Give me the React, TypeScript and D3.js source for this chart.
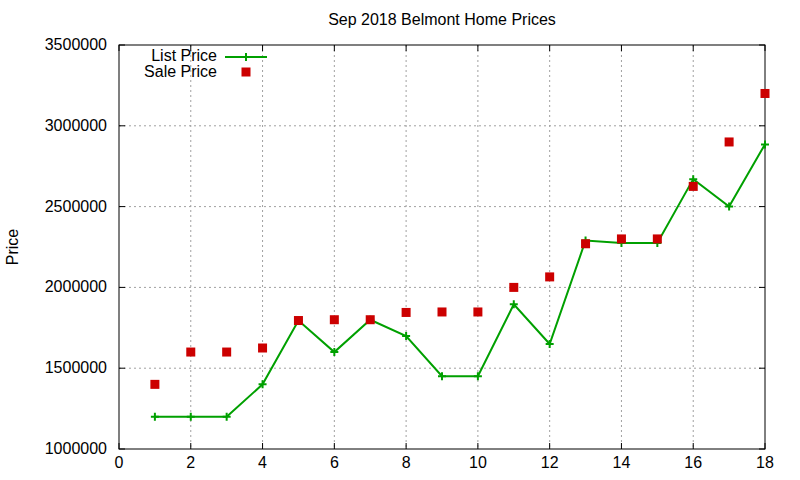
import { useEffect, useRef } from 'react'
import * as d3 from 'd3'

const TITLE = 'Sep 2018 Belmont Home Prices'
const homes = [1, 2, 3, 4, 5, 6, 7, 8, 9, 10, 11, 12, 13, 14, 15, 16, 17, 18]
const listPrice = [
  1200000, 1200000, 1200000, 1400000, 1795000, 1600000, 1800000, 1699000, 1450000,
  1450000, 1895000, 1650000, 2290000, 2275000, 2275000, 2670000, 2500000, 2885000,
]
const salePrice = [
  1400000, 1600000, 1600000, 1625000, 1795000, 1800000, 1800000, 1845000, 1848000,
  1848000, 2000000, 2065000, 2270000, 2300000, 2300000, 2625000, 2900000, 3200000,
]
const xTicks = [0, 2, 4, 6, 8, 10, 12, 14, 16, 18]
const yTicks = [1000000, 1500000, 2000000, 2500000, 3000000, 3500000]

const GREEN = '#00a000'
const RED = '#cc0000'
const FONT = '"Liberation Sans", Arial, sans-serif'

export default function App() {
  const ref = useRef<SVGSVGElement>(null)

  useEffect(() => {
    if (!ref.current) return
    const svg = d3.select(ref.current)
    svg.selectAll('*').remove()

    const width = 800
    const height = 480
    const margin = { top: 45, right: 35, bottom: 31, left: 119 }
    const iw = width - margin.left - margin.right
    const ih = height - margin.top - margin.bottom

    svg.attr('width', width).attr('height', height)
      .style('font-family', FONT)

    svg.append('rect').attr('width', width).attr('height', height).attr('fill', '#fff')

    const g = svg.append('g').attr('transform', `translate(${margin.left},${margin.top})`)

    const x = d3.scaleLinear().domain([0, 18]).range([0, iw])
    const y = d3.scaleLinear().domain([1000000, 3500000]).range([ih, 0])

    // Grid
    xTicks.slice(1, -1).forEach(t => {
      g.append('line')
        .attr('x1', x(t)).attr('x2', x(t)).attr('y1', 0).attr('y2', ih)
        .attr('stroke', '#a0a0a0').attr('stroke-dasharray', '2,3')
    })
    yTicks.slice(1, -1).forEach(t => {
      g.append('line')
        .attr('x1', 0).attr('x2', iw).attr('y1', y(t)).attr('y2', y(t))
        .attr('stroke', '#a0a0a0').attr('stroke-dasharray', '2,3')
    })

    // Ticks (mirrored, pointing inward)
    const tl = 6
    xTicks.forEach(t => {
      g.append('line').attr('x1', x(t)).attr('x2', x(t)).attr('y1', ih).attr('y2', ih - tl).attr('stroke', '#000')
      g.append('line').attr('x1', x(t)).attr('x2', x(t)).attr('y1', 0).attr('y2', tl).attr('stroke', '#000')
      g.append('text')
        .attr('x', x(t)).attr('y', ih + 19)
        .attr('text-anchor', 'middle').attr('font-size', '16px').attr('fill', '#000')
        .text(t)
    })
    yTicks.forEach(t => {
      g.append('line').attr('x1', 0).attr('x2', tl).attr('y1', y(t)).attr('y2', y(t)).attr('stroke', '#000')
      g.append('line').attr('x1', iw).attr('x2', iw - tl).attr('y1', y(t)).attr('y2', y(t)).attr('stroke', '#000')
      g.append('text')
        .attr('x', -12).attr('y', y(t) + 5)
        .attr('text-anchor', 'end').attr('font-size', '16px').attr('fill', '#000')
        .text(t)
    })

    // Border
    g.append('rect').attr('x', 0).attr('y', 0).attr('width', iw).attr('height', ih)
      .attr('fill', 'none').attr('stroke', '#000')

    // Title and axis label
    svg.append('text')
      .attr('x', margin.left + iw / 2).attr('y', 25)
      .attr('text-anchor', 'middle').attr('font-size', '16px')
      .text(TITLE)
    svg.append('text')
      .attr('transform', `translate(18,${margin.top + ih / 2}) rotate(-90)`)
      .attr('text-anchor', 'middle').attr('font-size', '16px')
      .text('Price')

    // List price line
    const line = d3.line<number>().x((_, i) => x(homes[i])).y(d => y(d))
    g.append('path').datum(listPrice)
      .attr('d', line).attr('fill', 'none').attr('stroke', GREEN).attr('stroke-width', 2)
    const plus = (sel: d3.Selection<SVGGElement, unknown, null, undefined>, cx: number, cy: number) => {
      sel.append('path')
        .attr('d', `M${cx - 4},${cy}H${cx + 4}M${cx},${cy - 4}V${cy + 4}`)
        .attr('stroke', GREEN).attr('stroke-width', 2)
    }
    listPrice.forEach((v, i) => plus(g, x(homes[i]), y(v)))

    // Sale price points
    g.selectAll('rect.sale')
      .data(salePrice)
      .join('rect')
      .attr('class', 'sale')
      .attr('x', (_, i) => x(homes[i]) - 4.5)
      .attr('y', d => y(d) - 4.5)
      .attr('width', 9).attr('height', 9)
      .attr('fill', RED)

    // Legend
    const lg = svg.append('g')
    lg.append('text').attr('x', 217).attr('y', 61).attr('text-anchor', 'end')
      .attr('font-size', '16px').text('List Price')
    lg.append('line').attr('x1', 225).attr('x2', 267).attr('y1', 57).attr('y2', 57)
      .attr('stroke', GREEN).attr('stroke-width', 2)
    plus(lg, 246, 57)
    lg.append('text').attr('x', 217).attr('y', 77).attr('text-anchor', 'end')
      .attr('font-size', '16px').text('Sale Price')
    lg.append('rect').attr('x', 241.5).attr('y', 67.5).attr('width', 9).attr('height', 9)
      .attr('fill', RED)
  }, [])

  return (
    <div style={{ position: 'absolute', left: 0, top: 0 }}>
      <svg ref={ref} />
    </div>
  )
}
